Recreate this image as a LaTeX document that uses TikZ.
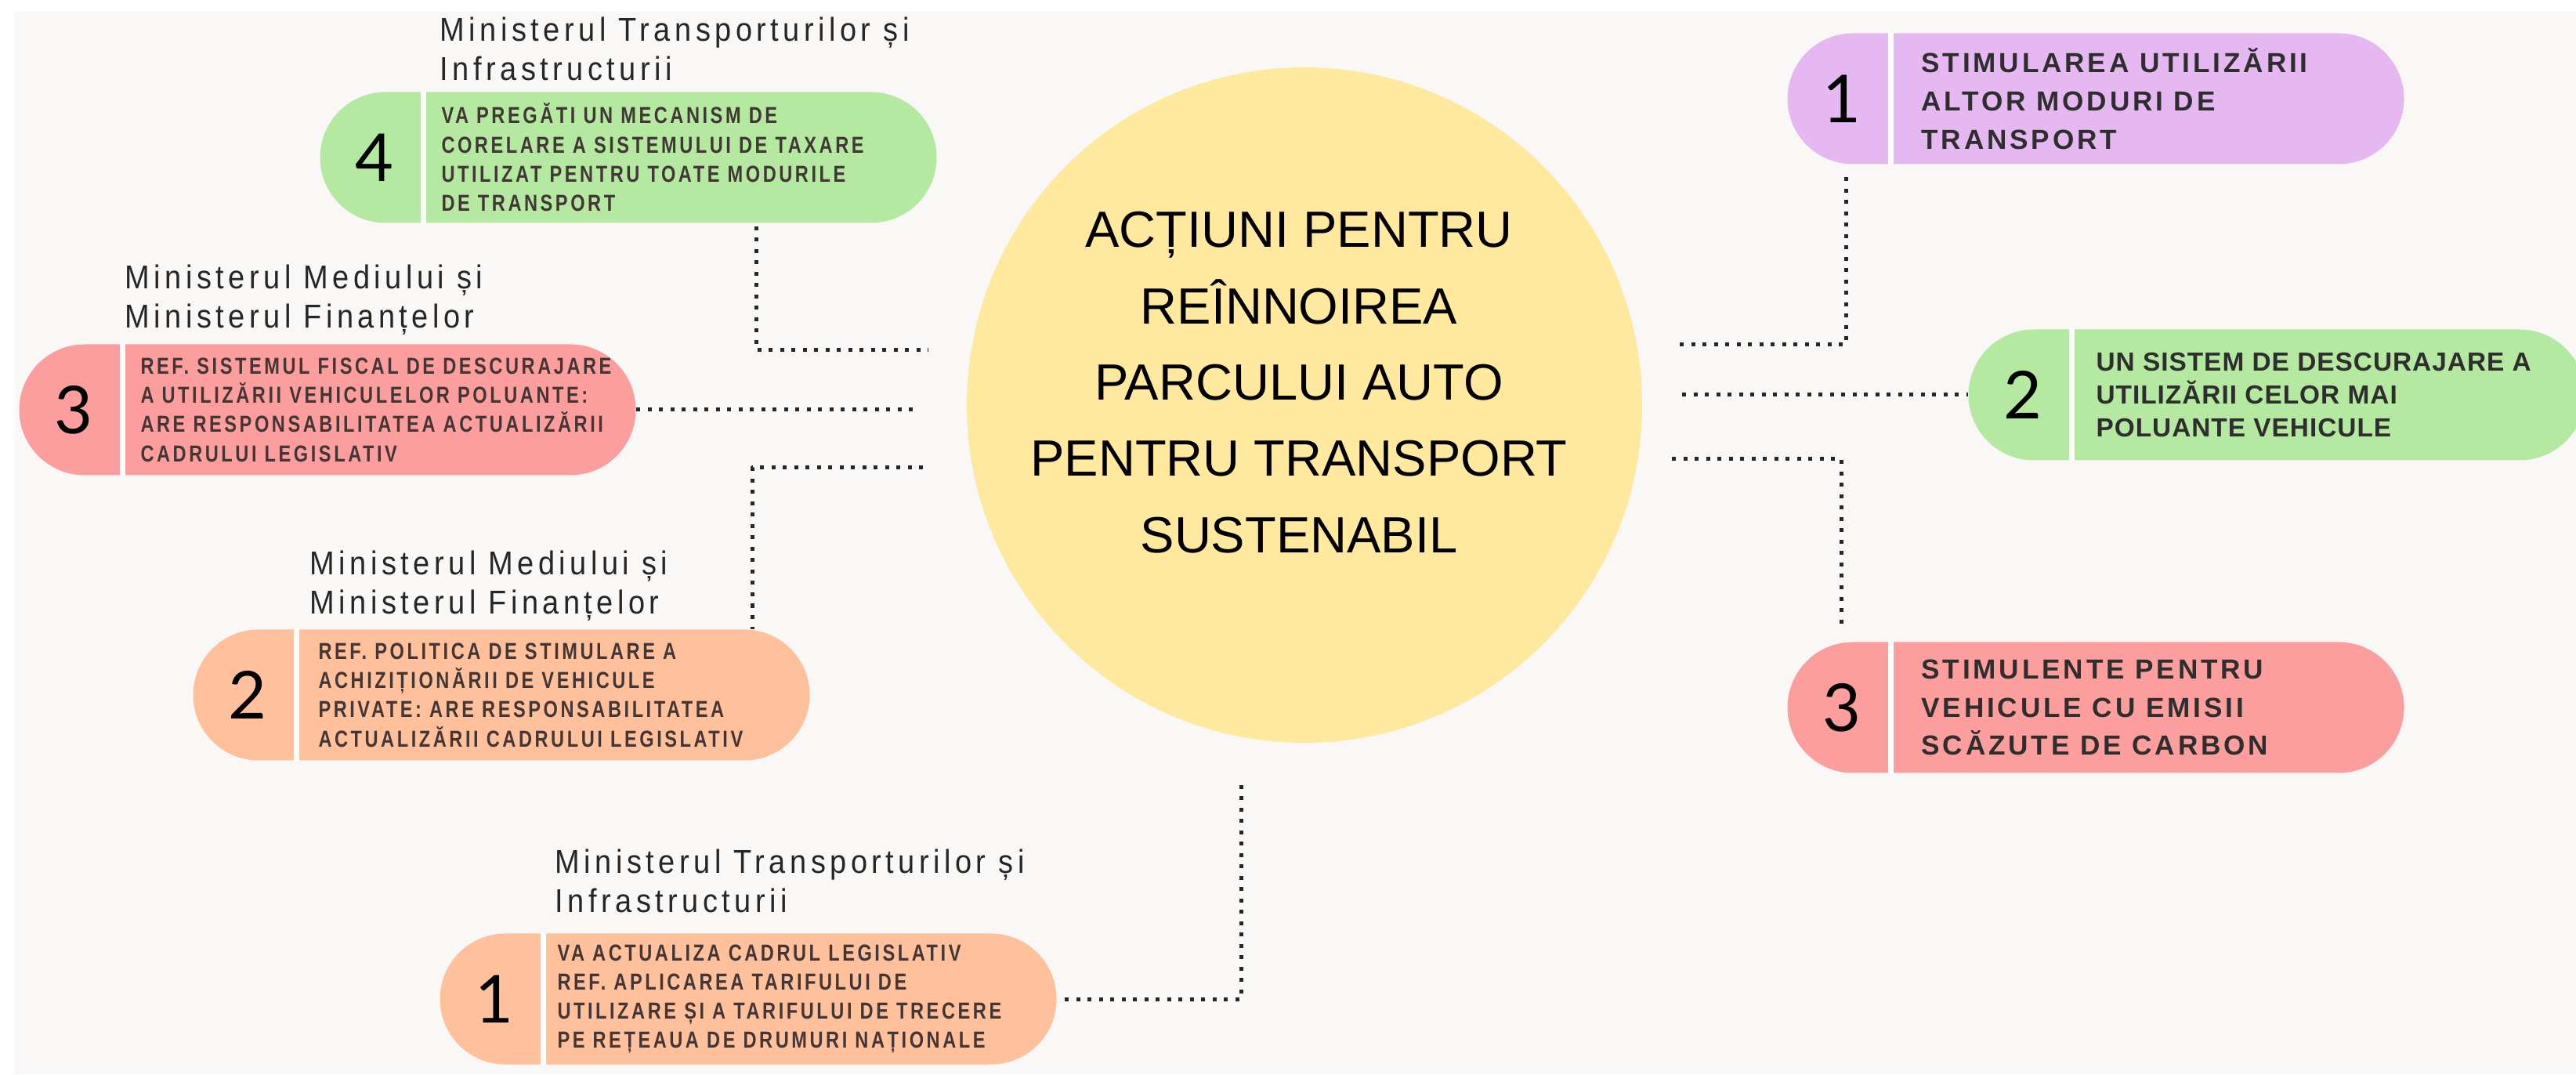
\documentclass[tikz,border=0pt]{standalone}
\usepackage{fontspec}
\setmainfont{Liberation Sans}
\newfontfamily\numf{Lato}
\newfontfamily\labf[FakeStretch=0.9,LetterSpace=13]{Liberation Sans}
\newfontfamily\lpf[FakeStretch=0.8,LetterSpace=12]{Liberation Sans}
\newfontfamily\rpf[LetterSpace=11]{Liberation Sans}
\newfontfamily\rpff[LetterSpace=3]{Liberation Sans}
\definecolor{fond}{HTML}{F9F8F6}
\definecolor{galben}{HTML}{FFE99F}
\definecolor{mov}{HTML}{E5B8F1}
\definecolor{verde}{HTML}{B5E8A0}
\definecolor{rosu}{HTML}{FD9E9E}
\definecolor{piersica}{HTML}{FFC09B}
\definecolor{txtl}{HTML}{423636}
\definecolor{txtr}{HTML}{2E2E2E}
\definecolor{gri}{HTML}{262626}
\begin{document}
\begin{tikzpicture}[line join = round,
	pill/.style={rounded corners=0.835cm, minimum width=7.87cm, minimum height=1.67cm, inner sep=0},
	num/.style={font=\numf\fontsize{24}{24}\selectfont},
	sep/.style={white, line width=0.07cm},
	ltxt/.style={anchor=west, align=left, text=txtl, inner sep=0, font=\lpf\bfseries\fontsize{8.4}{10.6}\selectfont},
	rtxt/.style={anchor=west, align=left, text=txtr, inner sep=0, font=\rpf\bfseries\fontsize{10}{13.9}\selectfont},
	lab/.style={anchor=west, align=left, text=gri, inner sep=0, font=\labf\fontsize{12}{14.2}\selectfont},
	dots/.style={draw=gri, line width=0.05cm, dash pattern=on 0.05cm off 0.095cm}]
	\useasboundingbox (0,0) rectangle (32.88,13.71);
	\clip (0,0) rectangle (32.88,13.71);
	\fill[fond] (0.18,0) rectangle (32.88,13.56);
	\node[circle, fill=galben, minimum size=8.62cm, inner sep=0] (c) at (16.65,8.54) {};
	\node[align=center, font=\fontsize{18.5}{27.7}\selectfont] (titlu) at (16.58,8.83)
		{ACȚIUNI PENTRU\\REÎNNOIREA\\PARCULUI AUTO\\PENTRU TRANSPORT\\SUSTENABIL};
	% stanga
	\node[pill, fill=verde] (l4) at (8.02,11.70) {};
	\node[pill, fill=rosu] (l3) at (4.18,8.48) {};
	\node[pill, fill=piersica] (l2) at (6.40,4.84) {};
	\node[pill, fill=piersica] (l1) at (9.55,0.96) {};
	% dreapta
	\node[pill, fill=mov] (r1) at (26.75,12.45) {};
	\node[pill, fill=verde] (r2) at (29.06,8.67) {};
	\node[pill, fill=rosu] (r3) at (26.75,4.68) {};
	\foreach \p/\n in {l4/4,l3/3,l2/2,l1/1,r1/1,r2/2,r3/3} {
		\draw[sep] ([xshift=1.33cm]\p.north west) -- ([xshift=1.33cm]\p.south west);
		\node[num] (n\p) at ([xshift=0.7cm]\p.west) {\n};
	}
	\node[ltxt] (x4) at ([xshift=1.55cm]l4.west) {VA PREGĂTI UN MECANISM DE\\CORELARE A SISTEMULUI DE TAXARE\\UTILIZAT PENTRU TOATE MODURILE\\DE TRANSPORT};
	\node[ltxt] (x3) at ([xshift=1.55cm]l3.west) {REF. SISTEMUL FISCAL DE DESCURAJARE\\A UTILIZĂRII VEHICULELOR POLUANTE:\\ARE RESPONSABILITATEA ACTUALIZĂRII\\CADRULUI LEGISLATIV};
	\node[ltxt] (x2) at ([xshift=1.6cm]l2.west) {REF. POLITICA DE STIMULARE A\\ACHIZIȚIONĂRII DE VEHICULE\\PRIVATE: ARE RESPONSABILITATEA\\ACTUALIZĂRII CADRULUI LEGISLATIV};
	\node[ltxt] (x1) at ([xshift=1.5cm]l1.west) {VA ACTUALIZA CADRUL LEGISLATIV\\REF. APLICAREA TARIFULUI DE\\UTILIZARE ȘI A TARIFULUI DE TRECERE\\PE REȚEAUA DE DRUMURI NAȚIONALE};
	\node[rtxt] (y1) at ([xshift=1.71cm]r1.west) {STIMULAREA UTILIZĂRII\\ALTOR MODURI DE\\TRANSPORT};
	\node[rtxt, font=\rpff\bfseries\fontsize{9.5}{12}\selectfont] (y2) at ([xshift=1.63cm]r2.west) {UN SISTEM DE DESCURAJARE A\\UTILIZĂRII CELOR MAI\\POLUANTE VEHICULE};
	\node[rtxt] (y3) at ([xshift=1.71cm]r3.west) {STIMULENTE PENTRU\\VEHICULE CU EMISII\\SCĂZUTE DE CARBON};
	% ministere
	\node[lab] (m4) at (5.61,13.09) {Ministerul Transporturilor și\\Infrastructurii};
	\node[lab] (m3) at (1.59,9.88) {Ministerul Mediului și\\Ministerul Finanțelor};
	\node[lab] (m2) at (3.95,6.23) {Ministerul Mediului și\\Ministerul Finanțelor};
	\node[lab] (m1) at (7.08,2.47) {Ministerul Transporturilor și\\Infrastructurii};
	% legaturi
	\coordinate (a4) at (9.65,10.82);
	\coordinate (b4) at (11.85,9.24);
	\coordinate (b3) at (11.68,8.48);
	\coordinate (b2) at (11.78,7.74);
	\coordinate (b1) at (15.84,3.78);
	\coordinate (a5) at (21.38,9.31);
	\coordinate (a6) at (21.47,8.67);
	\coordinate (a7) at (21.34,7.85);
	\draw[dots] (a4) |- (b4);
	\draw[dots] (l3.east) -- (b3);
	\draw[dots] (b2) -| ([xshift=3.2cm]l2.north);
	\draw[dots] ([xshift=0.1cm]l1.east) -| (b1);
	\draw[dots] ([xshift=-3.19cm,yshift=-0.16cm]r1.south) |- (a5);
	\draw[dots] (a6) -- (r2.west);
	\draw[dots] (a7) -| ([xshift=-3.25cm,yshift=0.18cm]r3.north);
\end{tikzpicture}
\end{document}
